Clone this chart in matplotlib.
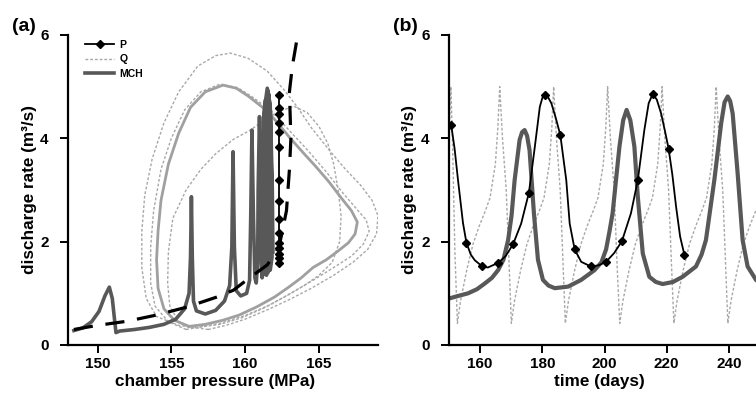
import matplotlib
matplotlib.use('Agg')
import matplotlib.pyplot as plt

plt.rcParams['font.family'] = ['Liberation Sans', 'DejaVu Sans']
plt.rcParams['font.weight'] = 'bold'

# ---- panel (a): discharge vs chamber pressure ----
# dashed black curve
dash_x = [148.4, 150.0, 152.0, 154.0, 156.0, 158.0, 159.2, 160.3, 161.5, 162.3, 162.8, 163.0, 163.1, 163.0, 163.2, 163.5]
dash_y = [0.30, 0.38, 0.46, 0.58, 0.73, 0.92, 1.06, 1.30, 1.55, 1.90, 2.60, 3.40, 4.00, 4.90, 5.40, 5.90]

# P: constant chamber pressure, discharge markers
p_pressure = 162.3
p_a_q = [4.84, 4.58, 4.48, 4.29, 4.13, 3.83, 3.19, 2.79, 2.43, 2.16, 1.97, 1.87, 1.77, 1.68, 1.58]

# Q: dotted orbits
qa_x = [157.5, 155.5, 154.0, 153.3, 153.0, 153.0, 153.2, 153.7, 154.5, 155.5, 156.8, 158.0, 159.0, 160.2, 161.5,
        162.6, 163.5, 164.5, 165.7, 166.8, 167.8, 168.6, 169.0, 168.9, 168.3, 167.3, 166.0, 164.5, 163.0, 161.5,
        160.0, 158.7, 157.5]
qa_y = [0.30, 0.38, 0.55, 0.90, 1.50, 2.20, 2.90, 3.60, 4.30, 4.90, 5.40, 5.60, 5.65, 5.55, 5.30,
        4.95, 4.62, 4.20, 3.77, 3.40, 3.10, 2.80, 2.50, 2.15, 1.85, 1.60, 1.35, 1.10, 0.88, 0.68,
        0.50, 0.38, 0.30]
qb_x = [156.5, 155.5, 154.9, 154.75, 154.8, 155.1, 156.0, 157.0, 158.0, 159.2, 160.3, 161.3, 162.3, 163.3, 164.2,
        165.0, 165.6, 166.0, 166.3, 166.5, 166.4, 165.9, 165.0, 164.0, 162.8, 161.3, 159.8, 158.3, 156.5]
qb_y = [0.33, 0.45, 0.75, 1.20, 1.80, 2.45, 3.00, 3.40, 3.70, 3.98, 4.15, 4.35, 4.52, 4.62, 4.50,
        4.23, 3.90, 3.50, 3.00, 2.50, 2.00, 1.60, 1.35, 1.15, 0.95, 0.72, 0.53, 0.40, 0.33]
qc_x = [156.0, 154.8, 153.9, 153.6, 153.6, 153.8, 154.3, 155.0, 155.9, 157.0, 158.3, 159.5, 160.5, 161.8, 163.0,
        164.3, 165.5, 166.6, 167.5, 168.2, 168.4, 168.0, 167.2, 166.0, 164.7, 163.2, 161.7, 160.0, 158.3, 156.0]
qc_y = [0.30, 0.45, 0.75, 1.20, 1.90, 2.60, 3.40, 4.00, 4.55, 4.90, 5.05, 4.98, 4.80, 4.52, 4.15,
        3.75, 3.35, 2.95, 2.65, 2.42, 2.20, 1.95, 1.72, 1.50, 1.27, 1.02, 0.78, 0.57, 0.42, 0.30]

# light grey solid orbit
loop_x = [156.2, 155.2, 154.5, 154.1, 154.0, 154.1, 154.3, 154.8, 155.5, 156.3, 157.3, 158.5, 159.4, 160.2, 161.4,
          162.2, 163.0, 164.0, 164.8, 165.7, 166.5, 167.2, 167.6, 167.45, 167.0, 166.3, 165.5, 164.6, 163.8, 163.0,
          162.0, 160.8, 159.6, 158.5, 157.3, 156.2]
loop_y = [0.36, 0.48, 0.70, 1.10, 1.65, 2.20, 2.80, 3.50, 4.10, 4.60, 4.90, 5.03, 4.97, 4.82, 4.55,
          4.30, 4.02, 3.70, 3.45, 3.15, 2.85, 2.60, 2.38, 2.15, 1.98, 1.82, 1.65, 1.50, 1.30, 1.13,
          0.93, 0.74, 0.58, 0.48, 0.40, 0.36]

# MCH trajectory
mch_a_x = [148.4, 149.0, 149.6, 150.1, 150.5, 150.8, 151.0, 151.15, 151.25, 151.5, 152.5, 153.5, 154.5, 155.3, 155.9,
           156.2, 156.3, 156.36, 156.42, 156.5, 156.7, 157.3, 158.0, 158.6, 158.95, 159.1, 159.18, 159.27, 159.4, 159.7,
           160.1, 160.3, 160.38, 160.46, 160.56, 160.66, 160.75, 160.85, 160.88, 160.97, 161.07, 161.1, 161.15,
           161.18, 161.18, 161.25, 161.38, 161.5, 161.58, 161.58, 161.45,
           161.25, 161.24, 161.32, 161.5, 161.66, 161.74, 161.74, 161.55,
           161.35, 161.32, 161.4, 161.55, 161.7, 161.8, 161.82, 161.7,
           161.45, 161.42, 161.48, 161.6, 161.72, 161.84, 161.88]
mch_a_y = [0.28, 0.33, 0.45, 0.65, 0.95, 1.12, 0.90, 0.50, 0.24, 0.27, 0.30, 0.34, 0.40, 0.50, 0.70,
           1.00, 1.70, 2.87, 1.70, 0.85, 0.66, 0.60, 0.67, 0.85, 1.15, 1.90, 3.74, 1.90, 1.05, 0.95,
           1.00, 1.25, 2.50, 4.16, 2.50, 1.30, 1.20, 1.60, 3.00, 4.42, 3.00, 1.50, 1.30,
           1.35, 3.00, 4.40, 4.75, 4.40, 3.00, 1.60, 1.35,
           1.40, 3.00, 4.60, 4.97, 4.60, 3.00, 1.60, 1.40,
           1.45, 3.00, 4.60, 4.92, 4.60, 3.00, 1.70, 1.45,
           1.50, 3.00, 4.50, 4.85, 4.50, 3.00, 1.80]

# ---- panel (b): discharge vs time ----
p_t = [150.7, 151.8, 152.9, 154.5, 155.6, 157.0, 158.3, 160.7, 162.5, 165.8, 168.2, 170.6, 173.2, 175.7, 177.6,
       179.2, 180.0, 180.8, 181.8, 182.9, 184.3, 185.8, 187.7, 188.8, 190.4, 192.5, 195.6, 198.0, 200.5, 203.1,
       205.6, 208.5, 210.7, 212.8, 214.2, 215.5, 216.8, 218.2, 219.4, 220.6, 221.8, 223.0, 224.3, 225.7]
p_q = [4.26, 3.80, 3.19, 2.36, 1.98, 1.75, 1.64, 1.52, 1.50, 1.59, 1.72, 1.95, 2.35, 2.95, 3.84,
       4.61, 4.78, 4.84, 4.80, 4.68, 4.40, 4.06, 3.19, 2.35, 1.85, 1.61, 1.52, 1.54, 1.61, 1.78,
       2.01, 2.55, 3.19, 4.16, 4.68, 4.86, 4.75, 4.48, 4.15, 3.80, 3.30, 2.68, 2.10, 1.74]
p_mark_t = [150.7, 155.6, 160.7, 165.8, 170.6, 175.7, 180.8, 185.8, 190.4, 195.6, 200.5, 205.6, 210.7, 215.5, 220.6, 225.7]
p_mark_q = [4.26, 1.98, 1.52, 1.59, 1.95, 2.95, 4.84, 4.06, 1.85, 1.52, 1.61, 2.01, 3.19, 4.86, 3.80, 1.74]

q_t = [150.0, 150.6, 151.1, 151.9,
       152.7, 153.7, 155.7, 157.7, 159.7, 161.7, 163.2, 164.9, 165.7, 166.3, 167.2, 168.4, 169.3,
       170.05, 171.05, 173.05, 175.05, 177.05, 179.05, 180.55, 182.25, 183.05, 183.65, 184.55, 185.75, 186.65,
       187.4, 188.4, 190.4, 192.4, 194.4, 196.4, 197.9, 199.6, 200.4, 201.0, 201.9, 203.1, 204.0,
       204.9, 205.9, 207.9, 209.9, 211.9, 213.9, 215.4, 217.1, 217.9, 218.5, 219.4, 220.6, 221.5,
       222.3, 223.3, 225.3, 227.3, 229.3, 231.3, 232.8, 234.5, 235.3, 235.9, 236.8, 238.0, 238.9,
       239.65, 240.65, 242.65, 244.65, 246.65, 248.65, 250.15]
q_q = [4.0, 5.0, 4.0, 1.8,
       0.42, 0.85, 1.45, 1.95, 2.3, 2.6, 2.85, 3.5, 4.2, 5.0, 4.0, 3.0, 1.6,
       0.42, 0.85, 1.45, 1.95, 2.3, 2.6, 2.85, 3.5, 4.2, 5.0, 4.0, 3.0, 1.6,
       0.42, 0.85, 1.45, 1.95, 2.3, 2.6, 2.85, 3.5, 4.2, 5.0, 4.0, 3.0, 1.6,
       0.42, 0.85, 1.45, 1.95, 2.3, 2.6, 2.85, 3.5, 4.2, 5.0, 4.0, 3.0, 1.6,
       0.42, 0.85, 1.45, 1.95, 2.3, 2.6, 2.85, 3.5, 4.2, 5.0, 4.0, 3.0, 1.6,
       0.42, 0.85, 1.45, 1.95, 2.3, 2.6, 2.85]

mch_t = [150.0, 153.0, 156.1, 159.0, 161.5, 163.8, 165.8, 167.5, 169.0, 170.1, 171.1, 172.7, 173.5, 174.3, 175.1,
         175.9, 177.3, 178.6, 180.2, 182.0, 184.0, 188.3, 192.5, 196.8, 199.0, 200.5, 201.6, 202.6, 203.7, 204.8,
         206.0, 207.1, 208.3, 209.6, 210.7, 212.3, 214.4, 216.5, 218.7, 222.0, 225.1, 229.4, 231.2, 232.6, 235.3,
         237.5, 238.6, 239.6, 240.4, 241.2, 242.8, 244.4, 246.0, 248.7, 250.0]
mch_q = [0.90, 0.95, 1.00, 1.08, 1.19, 1.30, 1.45, 1.65, 2.03, 2.50, 3.19, 3.97, 4.12, 4.16, 4.05,
         3.77, 2.55, 1.65, 1.26, 1.15, 1.10, 1.13, 1.26, 1.45, 1.60, 1.85, 2.20, 2.55, 3.20, 3.84,
         4.35, 4.55, 4.35, 3.84, 2.87, 1.77, 1.32, 1.22, 1.18, 1.22, 1.32, 1.52, 1.75, 2.03, 3.19,
         4.29, 4.70, 4.81, 4.72, 4.48, 3.32, 2.03, 1.52, 1.26, 1.20]

q_color = '#a8a8a8'
mch_color = '#585858'
q_dash = (0, (2.0, 1.4))


def style_axes(ax, xlabel):
    ax.spines['top'].set_visible(False)
    ax.spines['right'].set_visible(False)
    ax.spines['left'].set_linewidth(1.6)
    ax.spines['bottom'].set_linewidth(1.6)
    ax.tick_params(direction='out', length=6, width=1.4, labelsize=11)
    ax.tick_params(axis='y', pad=8)
    ax.tick_params(axis='x', pad=3)
    ax.set_ylim(0, 6)
    ax.set_yticks([0, 2, 4, 6])
    ax.set_xlabel(xlabel, fontsize=12.3, fontweight='bold')
    ax.set_ylabel('discharge rate (m³/s)', fontsize=12.3, fontweight='bold')
    for lab in ax.get_xticklabels() + ax.get_yticklabels():
        lab.set_fontweight('bold')


fig = plt.figure(figsize=(7.56, 3.95), dpi=100)
ax1 = fig.add_axes([68 / 756, 50 / 395, 310 / 756, 310 / 395])
ax2 = fig.add_axes([449 / 756, 50 / 395, 307 / 756, 310 / 395])

# panel (a)
for xs, ys in [(qa_x, qa_y), (qb_x, qb_y), (qc_x, qc_y)]:
    ax1.plot(xs, ys, color=q_color, lw=1.0, linestyle=q_dash)
ax1.plot(loop_x, loop_y, color='#a0a0a0', lw=2.0)
ax1.plot(mch_a_x, mch_a_y, color=mch_color, lw=2.6, solid_joinstyle='round')
ax1.plot(dash_x, dash_y, color='black', lw=2.3, linestyle=(0, (6, 4)))
ax1.plot([p_pressure] * len(p_a_q), p_a_q, color='black', lw=1.3, marker='D', ms=4.5)

# legend handles
h_p, = ax1.plot([], [], color='black', lw=1.3, marker='D', ms=4.5, label='P')
h_q, = ax1.plot([], [], color=q_color, lw=1.0, linestyle=q_dash, label='Q')
h_m, = ax1.plot([], [], color=mch_color, lw=2.6, label='MCH')
ax1.legend(handles=[h_p, h_q, h_m], loc='upper left', bbox_to_anchor=(0.055, 0.985),
           frameon=False, prop={'size': 7.5, 'weight': 'bold'}, handlelength=2.8,
           handletextpad=0.5, labelspacing=0.45, borderpad=0, borderaxespad=0)

ax1.set_xlim(148, 169)
ax1.set_xticks([150, 155, 160, 165])
style_axes(ax1, 'chamber pressure (MPa)')
ax1.xaxis.set_label_coords(0.476, -0.095)
ax1.yaxis.set_label_coords(-0.1, 0.5)

# panel (b)
ax2.plot(q_t, q_q, color=q_color, lw=1.0, linestyle=q_dash)
ax2.plot(mch_t, mch_q, color=mch_color, lw=3.0)
ax2.plot(p_t, p_q, color='black', lw=1.3)
ax2.plot(p_mark_t, p_mark_q, linestyle='none', color='black', marker='D', ms=4.5)
ax2.set_xlim(150, 248.7)
ax2.set_xticks([160, 180, 200, 220, 240])
style_axes(ax2, 'time (days)')
ax2.xaxis.set_label_coords(0.49, -0.095)
ax2.yaxis.set_label_coords(-0.104, 0.5)

fig.text(0.032, 0.934, '(a)', fontsize=14, fontweight='bold', ha='center', va='center')
fig.text(0.536, 0.934, '(b)', fontsize=14, fontweight='bold', ha='center', va='center')

fig.savefig('out.png', dpi=100)
